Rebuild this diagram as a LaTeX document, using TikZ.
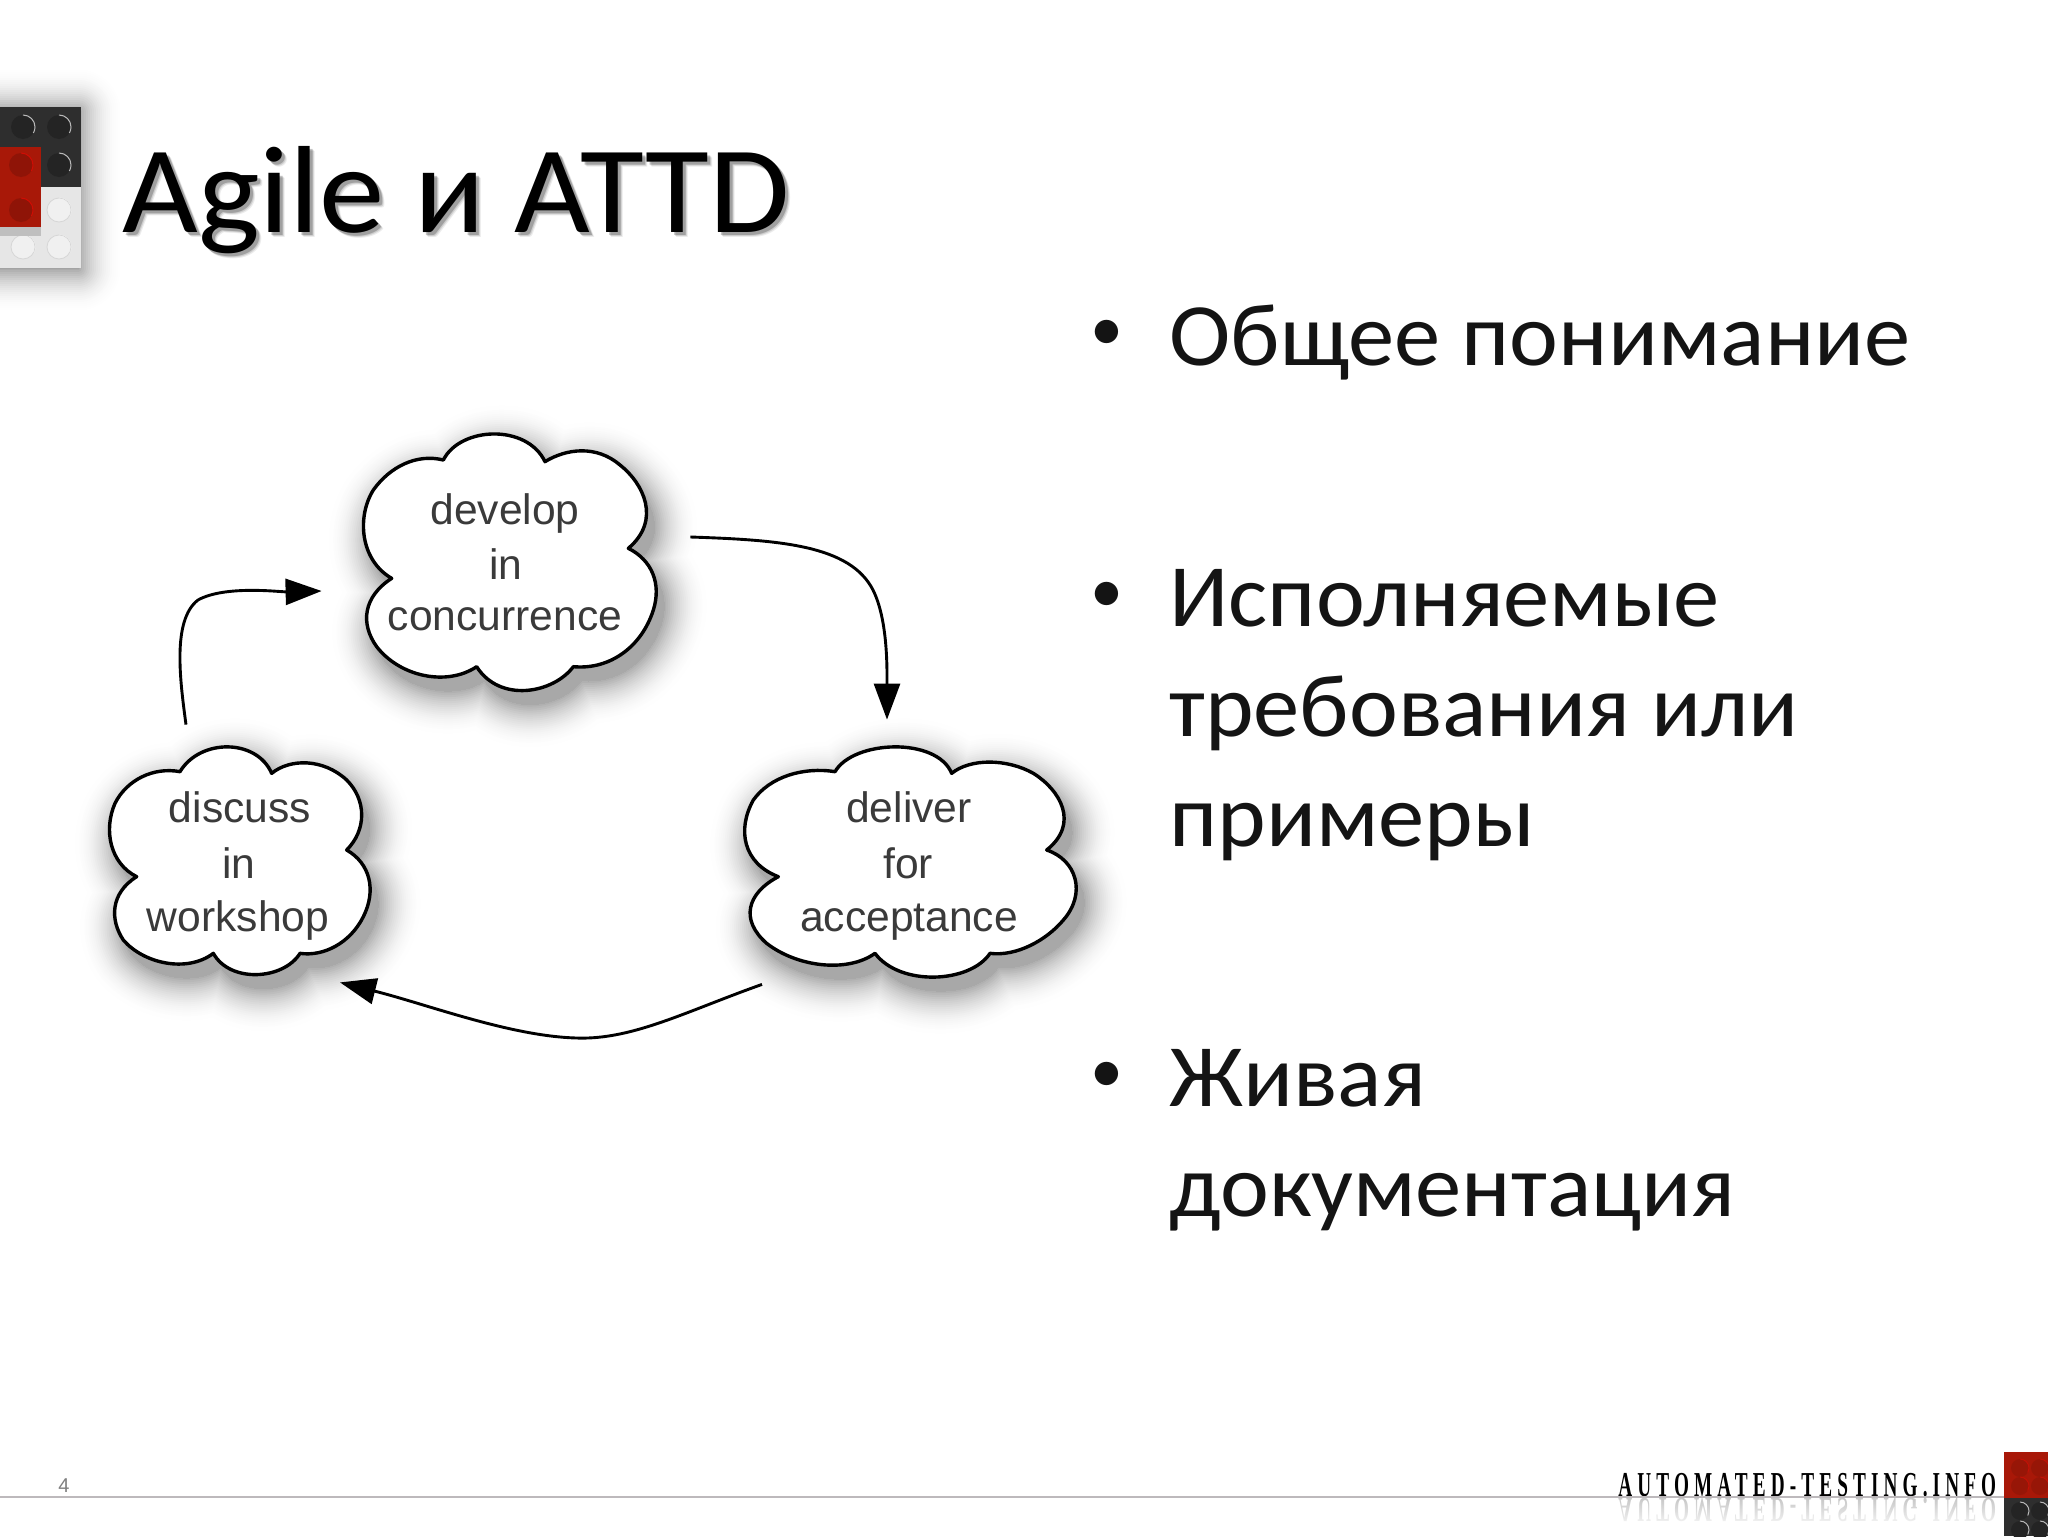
\documentclass[tikz,border=0pt]{standalone}
\usepackage{fontspec}
\setmainfont{Carlito}
\newfontfamily\helv{Liberation Sans}
\newfontfamily\titlefont[FakeStretch=1.055]{Carlito}
\newfontfamily\bodyfont[FakeStretch=1.04]{Carlito}
\newfontfamily\logofont[LetterSpace=14.6,FakeStretch=0.55]{Liberation Serif Bold}
\usetikzlibrary{arrows.meta,fadings}
\definecolor{cloudtext}{HTML}{3A3A3A}
\definecolor{brickred}{HTML}{A81808}
\definecolor{brickblack}{HTML}{2E2E2E}
\definecolor{brickwhite}{HTML}{E6E6E6}
\definecolor{rulegray}{HTML}{BDB9BC}
\tikzset{
  outline/.style={draw=black,line width=1.7pt,fill=white,line join=round},
  cloudlabel/.style={font=\helv\fontsize{21.3}{27}\selectfont,text=cloudtext,anchor=base,inner sep=0pt},
  cloudarea/.style={inner sep=0pt},
  flow/.style={draw=black,line width=1.45pt,-{Triangle[length=18pt,width=13pt]}},
  titletext/.style={font=\titlefont\fontsize{62}{70}\selectfont,anchor=base west,inner sep=0pt},
  bodytext/.style={font=\bodyfont\fontsize{44.5}{50}\selectfont,anchor=base west,inner sep=0pt,text=black!92},
  bullettext/.style={font=\fontsize{33}{40}\selectfont,anchor=base,inner sep=0pt,text=black!92},
}
% soft shadow: opaque rings from light (outer) to dark (inner)
\newcommand{\softshadow}[2][34]{%
  \foreach \w in {44,42,...,0}{
    \pgfmathsetmacro{\k}{#1*(1-\w/46)*(1-\w/46)}
    \path[draw=black!\k,fill=black!\k,line width=\w pt,line join=round] #2;
  }}
\newcommand{\brickstud}[5]{% x, y, radius, fill, arc colour
  \fill[#4] (#1,#2) circle (#3);
  \draw[#5,line width=0.5pt] (#1,#2) ++(-90:#3) arc[start angle=-90,end angle=30,radius=#3];
}
\newcommand{\cloudA}{(615,155) .. controls (680,115) and (770,105) .. (840,165) .. controls (910,220) and (965,330) .. (865,415)
 .. controls (935,450) and (965,520) .. (940,600) .. controls (905,710) and (810,780) .. (700,770)
 .. controls (640,850) and (480,880) .. (410,770)
 .. controls (320,830) and (180,800) .. (110,710) .. controls (60,640) and (70,560) .. (155,505)
 .. controls (60,450) and (50,320) .. (100,240) .. controls (150,170) and (230,130) .. (310,150)
 .. controls (360,50) and (560,40) .. (615,155) -- cycle}
\newcommand{\cloudB}{(545,130) .. controls (600,85) and (700,85) .. (770,150) .. controls (830,210) and (830,300) .. (770,360)
 .. controls (840,400) and (860,480) .. (820,560) .. controls (780,640) and (700,680) .. (630,670)
 .. controls (580,750) and (420,760) .. (370,670)
 .. controls (290,730) and (160,700) .. (100,630) .. controls (60,570) and (60,490) .. (140,440)
 .. controls (60,400) and (40,300) .. (75,220) .. controls (110,150) and (190,110) .. (270,125)
 .. controls (330,25) and (500,25) .. (545,130) -- cycle}
\newcommand{\cloudC}{(665,130) .. controls (720,85) and (830,85) .. (910,130) .. controls (990,180) and (1050,280) .. (950,360)
 .. controls (1040,390) and (1070,490) .. (1000,570) .. controls (950,630) and (860,680) .. (780,670)
 .. controls (720,760) and (510,770) .. (435,670)
 .. controls (350,730) and (200,710) .. (110,640) .. controls (30,570) and (50,490) .. (145,440)
 .. controls (40,400) and (20,300) .. (70,210) .. controls (120,140) and (220,110) .. (315,125)
 .. controls (370,30) and (620,20) .. (665,130) -- cycle}
\begin{document}
\begin{tikzpicture}[x=0.5pt,y=-0.5pt]
\useasboundingbox (0,0) rectangle (2048,1536);
\fill[white] (0,0) rectangle (2048,1536);

% top-left brick logo
\softshadow[36]{(-30,112) rectangle (78,268)}
\fill[brickblack] (0,107) rectangle (81,187);
\fill[brickwhite] (0,187) rectangle (81,268);
\foreach \x/\y in {23/127,59/127,59/165}{
  \brickstud{\x}{\y}{12}{black!86}{gray!55}
}
\foreach \x/\y in {59/210,23/247,59/247}{
  \brickstud{\x}{\y}{12}{black!6}{white}
  \draw[black!16,line width=0.4pt] (\x,\y) circle (12);
}
\fill[black!25] (0,227) rectangle (41,236);
\fill[brickred] (0,147) rectangle (41,227);
\foreach \x/\y in {21/165,21/210}{
  \brickstud{\x}{\y}{12}{brickred!85!black}{red!45!brickred}
}

% title
\foreach \d/\o in {5/0.08,4/0.12,3/0.22}{
  \node[titletext,text=black,opacity=\o] at (122+\d,232+\d) {Agile и ATTD};
}
\node[titletext] (title) at (122,232) {Agile и ATTD};

% body
\node[bullettext] (b1) at (1107,350) {•};
\node[bodytext] (t1) at (1169,365) {Общее понимание};
\node[bullettext] (b2) at (1107,612) {•};
\node[bodytext] (t2a) at (1169,626) {Исполняемые};
\node[bodytext] (t2b) at (1169,736) {требования или};
\node[bodytext] (t2c) at (1169,846) {примеры};
\node[bullettext] (b3) at (1107,1092) {•};
\node[bodytext] (t3a) at (1169,1106) {Живая};
\node[bodytext] (t3b) at (1169,1216) {документация};

% clouds
\begin{scope}[shift={(340,410)},x=0.16667pt,y=-0.16667pt]
  \begin{scope}[shift={(24,42)}]\softshadow{\cloudA}\end{scope}
  \path[outline] \cloudA;
\end{scope}
\begin{scope}[shift={(90,730)},x=0.16667pt,y=-0.16667pt]
  \begin{scope}[shift={(24,42)}]\softshadow{\cloudB}\end{scope}
  \path[outline] \cloudB;
\end{scope}
\begin{scope}[shift={(730,730)},x=0.16667pt,y=-0.16667pt]
  \begin{scope}[shift={(24,42)}]\softshadow{\cloudC}\end{scope}
  \path[outline] \cloudC;
\end{scope}

\node[cloudarea,minimum width=148pt,minimum height=132pt] (develop) at (510,563) {};
\node[cloudlabel] (l1a) at (505,524) {develop};
\node[cloudlabel] (l1b) at (506,579) {in};
\node[cloudlabel] (l1c) at (505,630) {concurrence};
\node[cloudarea,minimum width=131pt,minimum height=118pt] (discuss) at (240,862) {};
\node[cloudlabel] (l2a) at (240,822) {discuss};
\node[cloudlabel] (l2b) at (239,878) {in};
\node[cloudlabel] (l2c) at (238,931) {workshop};
\node[cloudarea,minimum width=168pt,minimum height=118pt] (deliver) at (914,862) {};
\node[cloudlabel] (l3a) at (909,822) {deliver};
\node[cloudlabel] (l3b) at (908,878) {for};
\node[cloudlabel] (l3c) at (909,931) {acceptance};

% connectors
\coordinate (c1s) at ([xshift=16pt,yshift=13pt]develop.east);
\coordinate (c1e) at ([xshift=-13.5pt,yshift=12pt]deliver.north);
\coordinate (c2s) at ([xshift=-27pt,yshift=9.5pt]discuss.north);
\coordinate (c2e) at ([xshift=-20pt,yshift=-14pt]develop.west);
\coordinate (c3s) at ([xshift=-76pt,yshift=-2pt]deliver.south);
\coordinate (c3e) at ([xshift=50pt,yshift=-1pt]discuss.south);
\draw[flow] (c1s) .. controls (780,540) and (850,545) .. (873,590) .. controls (888,620) and (887,670) .. (c1e);
\draw[flow] (c2s) .. controls (180,680) and (172,620) .. (198,600) .. controls (225,585) and (280,592) .. (c2e);
\draw[flow] (c3s) .. controls (690,1010) and (640,1036) .. (588,1038) .. controls (520,1040) and (430,1005) .. (c3e);

% footer
\node[font=\helv\fontsize{10}{12}\selectfont,text=gray,anchor=base,inner sep=0pt] (page) at (64,1492) {4};
\begin{scope}[yscale=-1,shift={(0,-2996)}]
  \node[font=\logofont\fontsize{17.5}{20}\selectfont,anchor=base west,inner sep=0pt,text=black!22,transform shape] (mirror) at (1618,1498) {AUTOMATED-TESTING.INFO};
\end{scope}
\fill[white,path fading=north] (1610,1498) rectangle (2004,1530);
\node[font=\logofont\fontsize{17.5}{20}\selectfont,anchor=base west,inner sep=0pt] (brand) at (1618,1496) {AUTOMATED-TESTING.INFO};
\draw[rulegray,line width=1.1pt] (0,1497) -- (2004,1497);
\fill[brickred] (2004,1452) rectangle (2048,1498);
\fill[brickblack] (2004,1498) rectangle (2048,1536);
\foreach \x/\y in {2020/1468,2040/1468,2020/1486,2040/1486}{
  \brickstud{\x}{\y}{9}{brickred!90!black}{red!30!brickred}
}
\foreach \x/\y in {2020/1511,2040/1511,2020/1530,2040/1530}{
  \brickstud{\x}{\y}{9}{black!86}{gray!55}
}
\end{tikzpicture}
\end{document}
